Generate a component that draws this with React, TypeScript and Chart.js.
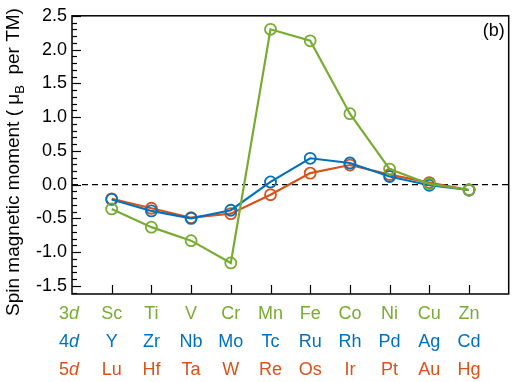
import React, { useEffect, useRef } from "react";
import { Chart, registerables } from "chart.js";

Chart.register(...registerables);

const ROW_3D = ["Sc", "Ti", "V", "Cr", "Mn", "Fe", "Co", "Ni", "Cu", "Zn"];
const ROW_4D = ["Y", "Zr", "Nb", "Mo", "Tc", "Ru", "Rh", "Pd", "Ag", "Cd"];
const ROW_5D = ["Lu", "Hf", "Ta", "W", "Re", "Os", "Ir", "Pt", "Au", "Hg"];
const ROW_NAMES = ["3", "4", "5"];

const VALUES_3D = [-0.36, -0.63, -0.83, -1.16, 2.3, 2.13, 1.05, 0.23, 0.01, -0.08];
const VALUES_4D = [-0.22, -0.39, -0.5, -0.38, 0.04, 0.39, 0.32, 0.12, -0.01, -0.08];
const VALUES_5D = [-0.21, -0.35, -0.49, -0.43, -0.15, 0.17, 0.29, 0.15, 0.03, -0.08];

const Y_TICKS = [-1.5, -1.0, -0.5, 0.0, 0.5, 1.0, 1.5, 2.0, 2.5];
const Y_MIN = -1.62;
const Y_MAX = 2.5;
const X_MIN = 0;
const X_MAX = 11;

const GREEN = "#77ac30";
const BLUE = "#0072bd";
const RED = "#d95319";
const FONT = "'Liberation Sans', Arial, Helvetica, sans-serif";

function toPoints(vals: number[]) {
  return vals.map((v, i) => ({ x: i + 1, y: v }));
}

const decorPlugin = {
  id: "decor",
  beforeDatasetsDraw(chart: any) {
    const { ctx, chartArea } = chart;
    const ys = chart.scales.y;
    const y0 = ys.getPixelForValue(0);
    ctx.save();
    ctx.strokeStyle = "#000";
    ctx.lineWidth = 1.3;
    ctx.setLineDash([6, 4]);
    ctx.beginPath();
    ctx.moveTo(chartArea.left, y0);
    ctx.lineTo(chartArea.right, y0);
    ctx.stroke();
    ctx.restore();
  },
  afterDraw(chart: any) {
    const { ctx, chartArea } = chart;
    const xs = chart.scales.x;
    const ys = chart.scales.y;
    ctx.save();
    ctx.strokeStyle = "#000";
    ctx.lineWidth = 1.5;
    ctx.strokeRect(chartArea.left, chartArea.top, chartArea.right - chartArea.left, chartArea.bottom - chartArea.top);
    ctx.lineWidth = 1.2;
    for (let v = -16; v <= 25; v++) {
      const val = v / 10;
      const major = v % 5 === 0;
      const py = Math.round(ys.getPixelForValue(val)) + 0.5;
      ctx.beginPath();
      ctx.moveTo(chartArea.left, py);
      ctx.lineTo(chartArea.left + (major ? 9 : 5), py);
      ctx.stroke();
    }
    for (let i = 0; i < ROW_3D.length; i++) {
      const px = Math.round(xs.getPixelForValue(i + 1)) + 0.5;
      ctx.beginPath();
      ctx.moveTo(px, chartArea.bottom);
      ctx.lineTo(px, chartArea.bottom - 9);
      ctx.stroke();
    }
    const rows = [ROW_3D, ROW_4D, ROW_5D];
    const colors = [GREEN, BLUE, RED];
    const rowY = [chartArea.bottom + 20, chartArea.bottom + 48, chartArea.bottom + 76];
    ctx.textBaseline = "middle";
    for (let r = 0; r < 3; r++) {
      ctx.fillStyle = colors[r];
      ctx.font = `18px ${FONT}`;
      ctx.textAlign = "center";
      rows[r].forEach((lab, i) => {
        ctx.fillText(lab, xs.getPixelForValue(i + 1), rowY[r]);
      });
      const num = ROW_NAMES[r];
      ctx.font = `18px ${FONT}`;
      const wn = ctx.measureText(num).width;
      ctx.font = `italic 18px ${FONT}`;
      const wd = ctx.measureText("d").width;
      const cx = xs.getPixelForValue(0) - 3;
      const start = cx - (wn + wd) / 2;
      ctx.textAlign = "left";
      ctx.font = `18px ${FONT}`;
      ctx.fillText(num, start, rowY[r]);
      ctx.font = `italic 18px ${FONT}`;
      ctx.fillText("d", start + wn, rowY[r]);
    }
    ctx.fillStyle = "#000";
    ctx.font = `18px ${FONT}`;
    ctx.textAlign = "right";
    ctx.fillText("(b)", chartArea.right - 4, chartArea.top + 15);
    const p1 = "Spin magnetic moment ( \u03bc";
    const p2 = "B";
    const p3 = "  per TM)";
    const fs = 19;
    ctx.font = `${fs}px ${FONT}`;
    const w1 = ctx.measureText(p1).width;
    const w3 = ctx.measureText(p3).width;
    ctx.font = `13px ${FONT}`;
    const w2 = ctx.measureText(p2).width;
    const total = w1 + w2 + w3;
    ctx.translate(14, 162);
    ctx.rotate(-Math.PI / 2);
    ctx.textAlign = "left";
    ctx.textBaseline = "middle";
    let x = -total / 2;
    ctx.font = `${fs}px ${FONT}`;
    ctx.fillText(p1, x, 0);
    x += w1;
    ctx.font = `13px ${FONT}`;
    ctx.fillText(p2, x, 6);
    x += w2;
    ctx.font = `${fs}px ${FONT}`;
    ctx.fillText(p3, x, 0);
    ctx.restore();
  },
};

function ds(label: string, vals: number[], color: string) {
  return {
    label,
    data: toPoints(vals),
    borderColor: color,
    backgroundColor: "rgba(0,0,0,0)",
    pointBackgroundColor: "rgba(0,0,0,0)",
    pointBorderColor: color,
    pointRadius: 5.5,
    pointBorderWidth: 1.8,
    borderWidth: 2.2,
    tension: 0,
  };
}

export default function App() {
  const ref = useRef<HTMLCanvasElement>(null);
  useEffect(() => {
    document.body.style.margin = "0";
    const chart = new Chart(ref.current!, {
      type: "line",
      data: {
        datasets: [ds("3d", VALUES_3D, GREEN), ds("4d", VALUES_4D, BLUE), ds("5d", VALUES_5D, RED)],
      },
      options: {
        animation: false,
        responsive: false,
        devicePixelRatio: 1,
        layout: { padding: { top: 7, right: 2, bottom: 88, left: 0 } },
        plugins: { legend: { display: false }, tooltip: { enabled: false } },
        scales: {
          x: {
            type: "linear",
            min: X_MIN,
            max: X_MAX,
            display: false,
          },
          y: {
            min: Y_MIN,
            max: Y_MAX,
            afterBuildTicks: (scale: any) => {
              scale.ticks = Y_TICKS.map((v) => ({ value: v }));
            },
            afterFit: (scale: any) => {
              scale.width = 72;
            },
            grid: { display: false, drawTicks: false },
            border: { display: false },
            ticks: {
              color: "#000",
              padding: 5,
              font: { family: FONT, size: 18 },
              callback: (v: any) => Number(v).toFixed(1),
            },
          },
        },
      },
      plugins: [decorPlugin],
    });
    return () => chart.destroy();
  }, []);
  return (
    <div style={{ position: "absolute", left: 0, top: 0, width: 516, height: 382 }}>
      <canvas ref={ref} width={516} height={382} />
    </div>
  );
}
